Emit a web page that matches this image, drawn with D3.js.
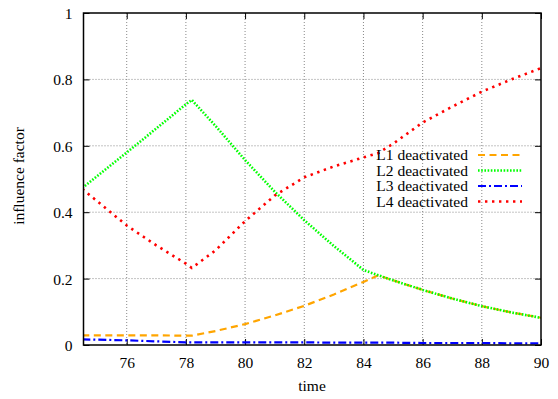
<!DOCTYPE html>
<html>
<head>
<meta charset="utf-8">
<script src="https://cdn.jsdelivr.net/npm/d3@7"></script>
<style>
  html, body { margin: 0; padding: 0; background: #fff; }
  svg { display: block; }
  svg text { font-family: "Liberation Serif", "Tinos", "Times New Roman", Times, "DejaVu Serif", serif !important; fill: #000; }
</style>
</head>
<body>
<svg id="chart" width="558" height="399"></svg>
<script>
// ---- data ----
const time = [74.5, 76, 77, 78, 78.2, 79, 80, 81, 82, 83, 84, 84.5, 85, 86, 87, 88, 89, 90];
const L1 = [0.029, 0.029, 0.029, 0.028, 0.028, 0.042, 0.063, 0.089, 0.118, 0.152, 0.19, 0.21, 0.195, 0.166, 0.14, 0.117, 0.098, 0.082];
const L2 = [0.473, 0.58, 0.652, 0.725, 0.738, 0.66, 0.557, 0.462, 0.376, 0.298, 0.226, 0.21, 0.195, 0.166, 0.14, 0.117, 0.098, 0.082];
const L3 = [0.017, 0.014, 0.011, 0.008, 0.008, 0.008, 0.008, 0.008, 0.008, 0.007, 0.007, 0.007, 0.007, 0.006, 0.006, 0.006, 0.005, 0.005];
const L4 = [0.47, 0.36, 0.30, 0.245, 0.232, 0.285, 0.373, 0.45, 0.505, 0.538, 0.565, 0.578, 0.606, 0.67, 0.718, 0.763, 0.80, 0.834];
const seriesNames = ["L1 deactivated", "L2 deactivated", "L3 deactivated", "L4 deactivated"];
const xTicks = [76, 78, 80, 82, 84, 86, 88, 90];
const yTicks = [0, 0.2, 0.4, 0.6, 0.8, 1];
const xLabel = "time";
const yLabel = "influence factor";

// ---- layout ----
const FONT = '"Liberation Serif", Tinos, "Times New Roman", Times, "DejaVu Serif", serif';
const svg = d3.select("#chart");
const m = { left: 83.5, right: 541, top: 13, bottom: 345 };
const x = d3.scaleLinear().domain([74.54, 90]).range([m.left, m.right]);
const y = d3.scaleLinear().domain([0, 1]).range([m.bottom, m.top]);

const styles = [
  { color: "#FFA500", width: 2.2, dash: "7,4.5" },
  { color: "#00FF00", width: 2.6, dash: "1.6,1.6" },
  { color: "#0000FF", width: 2.2, dash: "8,3,2,3" },
  { color: "#FF0000", width: 2.6, dash: "2.4,4.6" }
];
const seriesData = [L1, L2, L3, L4];

// grid
const grid = svg.append("g");
xTicks.filter(t => t < 90).forEach(t => {
  grid.append("line").attr("x1", x(t)).attr("x2", x(t)).attr("y1", m.top).attr("y2", m.bottom)
    .attr("stroke", "#888").attr("stroke-width", 1).attr("stroke-dasharray", "1,2");
});
yTicks.filter(t => t > 0 && t < 1).forEach(t => {
  grid.append("line").attr("x1", m.left).attr("x2", m.right).attr("y1", y(t)).attr("y2", y(t))
    .attr("stroke", "#888").attr("stroke-width", 1).attr("stroke-dasharray", "1,2");
});

// axes
const tickLen = 6;
const axB = svg.append("g").attr("transform", `translate(0,${m.bottom})`)
  .call(d3.axisBottom(x).tickValues(xTicks).tickSize(-tickLen).tickPadding(12).tickFormat(d3.format("d")));
const axT = svg.append("g").attr("transform", `translate(0,${m.top})`)
  .call(d3.axisTop(x).tickValues(xTicks).tickSize(-tickLen).tickFormat(""));
const axL = svg.append("g").attr("transform", `translate(${m.left},0)`)
  .call(d3.axisLeft(y).tickValues(yTicks).tickSize(-tickLen).tickPadding(11).tickFormat(d => d3.format("")(d)));
const axR = svg.append("g").attr("transform", `translate(${m.right},0)`)
  .call(d3.axisRight(y).tickValues(yTicks).tickSize(-tickLen).tickFormat(""));
[axB, axT, axL, axR].forEach(a => {
  a.attr("font-family", FONT);
  a.select(".domain").remove();
  a.selectAll(".tick line").attr("stroke", "#000").attr("stroke-width", 1);
  a.selectAll("text").attr("font-size", 15.5).attr("font-family", FONT).attr("fill", "#000");
});
axL.selectAll("text").attr("dy", "0.35em");

// series
const line = d3.line().x((d, i) => x(time[i])).y(d => y(d));
svg.append("clipPath").attr("id", "clip").append("rect")
  .attr("x", m.left).attr("y", m.top).attr("width", m.right - m.left).attr("height", m.bottom - m.top);
const plot = svg.append("g").attr("clip-path", "url(#clip)");
seriesData.forEach((s, k) => {
  plot.append("path").datum(s).attr("d", line).attr("fill", "none")
    .attr("stroke", styles[k].color).attr("stroke-width", styles[k].width)
    .attr("stroke-dasharray", styles[k].dash);
});

// frame
svg.append("rect").attr("x", m.left).attr("y", m.top).attr("width", m.right - m.left).attr("height", m.bottom - m.top)
  .attr("fill", "none").attr("stroke", "#000").attr("stroke-width", 1.5);

// legend
const leg = svg.append("g").attr("font-family", FONT);
seriesNames.forEach((name, k) => {
  const cy = 155 + k * 15.5;
  leg.append("text").attr("x", 468).attr("y", cy).attr("dy", "0.33em").attr("text-anchor", "end")
    .attr("font-size", 15.5).attr("font-family", FONT).text(name);
  leg.append("line").attr("x1", 478).attr("x2", 522).attr("y1", cy).attr("y2", cy)
    .attr("stroke", styles[k].color).attr("stroke-width", styles[k].width)
    .attr("stroke-dasharray", styles[k].dash);
});

// axis labels
svg.append("text").attr("x", 312).attr("y", 391).attr("text-anchor", "middle")
  .attr("font-size", 15.5).attr("font-family", FONT).text(xLabel);
svg.append("text").attr("transform", "translate(24,176) rotate(-90)").attr("text-anchor", "middle")
  .attr("font-size", 15.5).attr("font-family", FONT).text(yLabel);
</script>
</body>
</html>
